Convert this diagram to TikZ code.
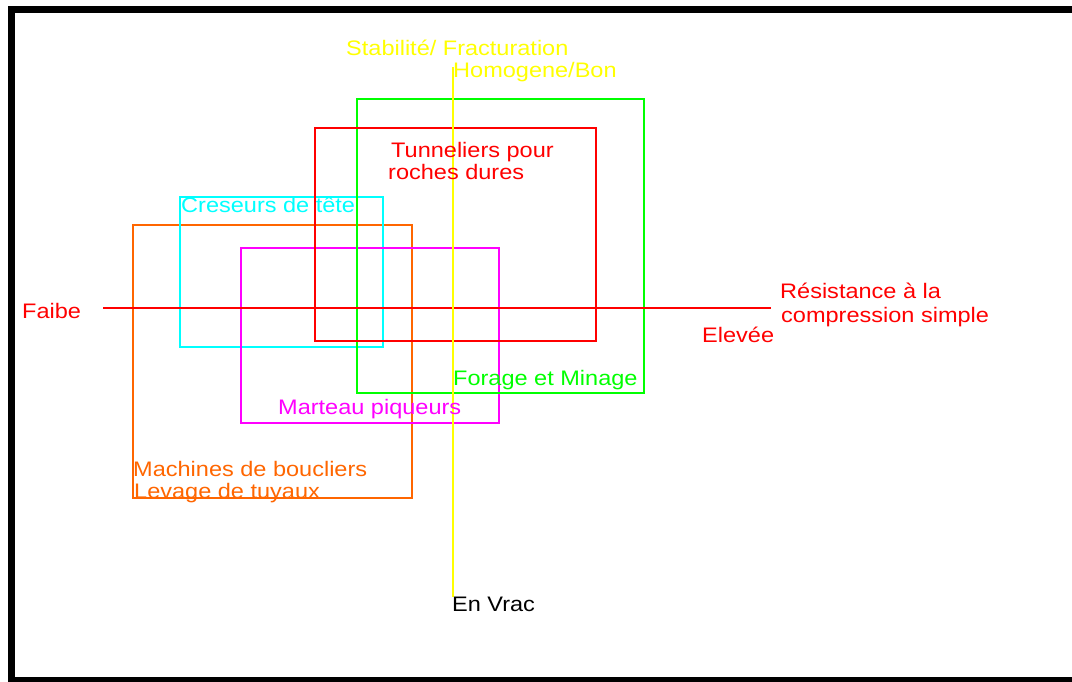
\documentclass[tikz,border=0pt]{standalone}
\usepackage{fontspec}
\setmainfont{Liberation Sans}[FakeStretch=1.12]
\definecolor{cyel}{RGB}{255,255,0}
\definecolor{cred}{RGB}{255,0,0}
\definecolor{cgrn}{RGB}{0,255,0}
\definecolor{ccyn}{RGB}{0,255,255}
\definecolor{corg}{RGB}{255,102,0}
\definecolor{cmag}{RGB}{255,0,255}
\tikzset{
  lbl/.style={anchor=base west, inner sep=0pt, font=\fontsize{21}{22}\selectfont},
  box/.style={line width=2pt},
}
\begin{document}
\begin{tikzpicture}[x=1pt,y=-1pt]
\useasboundingbox (0,0) rectangle (1072,681);
\fill[white] (0,0) rectangle (1072,681);
% frame
\draw[line width=7pt] (1090,9) -- (11,9) -- (11,680) -- (1090,680);
% boxes
\draw[box,corg] (133,225) rectangle (412,498);
\draw[box,ccyn] (180,197) rectangle (383,347);
\draw[box,cmag] (241,248) rectangle (499,423);
\draw[box,cgrn] (357,99) rectangle (644,393);
\draw[box,cred] (315,128) rectangle (596,341);
% axes
\coordinate (ytop) at (453,67);
\coordinate (ybot) at (453,597);
\coordinate (xl) at (103,308);
\coordinate (xr) at (771,308);
\draw[box,cred] (xl) -- (xr);
\draw[box,cyel] (ytop) -- (ybot);
% labels
\node[lbl,cyel] (stab) at (346,55) {Stabilité/ Fracturation};
\node[lbl,cyel] (homo) at (453,77) {Homogene/Bon};
\node[lbl,cred] (tun1) at (391,157) {Tunneliers pour};
\node[lbl,cred] (tun2) at (388,179) {roches dures};
\node[lbl,ccyn] (cres) at (181,212) {Creseurs de tête};
\node[lbl,cred] (faib) at (22,318) {Faibe};
\node[lbl,cred] (res1) at (780,298) {Résistance à la};
\node[lbl,cred] (res2) at (781,322) {compression simple};
\node[lbl,cred] (elev) at (702,342) {Elevée};
\node[lbl,cgrn] (fora) at (453,385) {Forage et Minage};
\node[lbl,cmag] (mart) at (278,414) {Marteau piqueurs};
\node[lbl,corg] (mach) at (133,476) {Machines de boucliers};
\node[lbl,corg] (leva) at (134,498) {Levage de tuyaux};
\node[lbl,black] (vrac) at (452,611) {En Vrac};
\end{tikzpicture}
\end{document}
